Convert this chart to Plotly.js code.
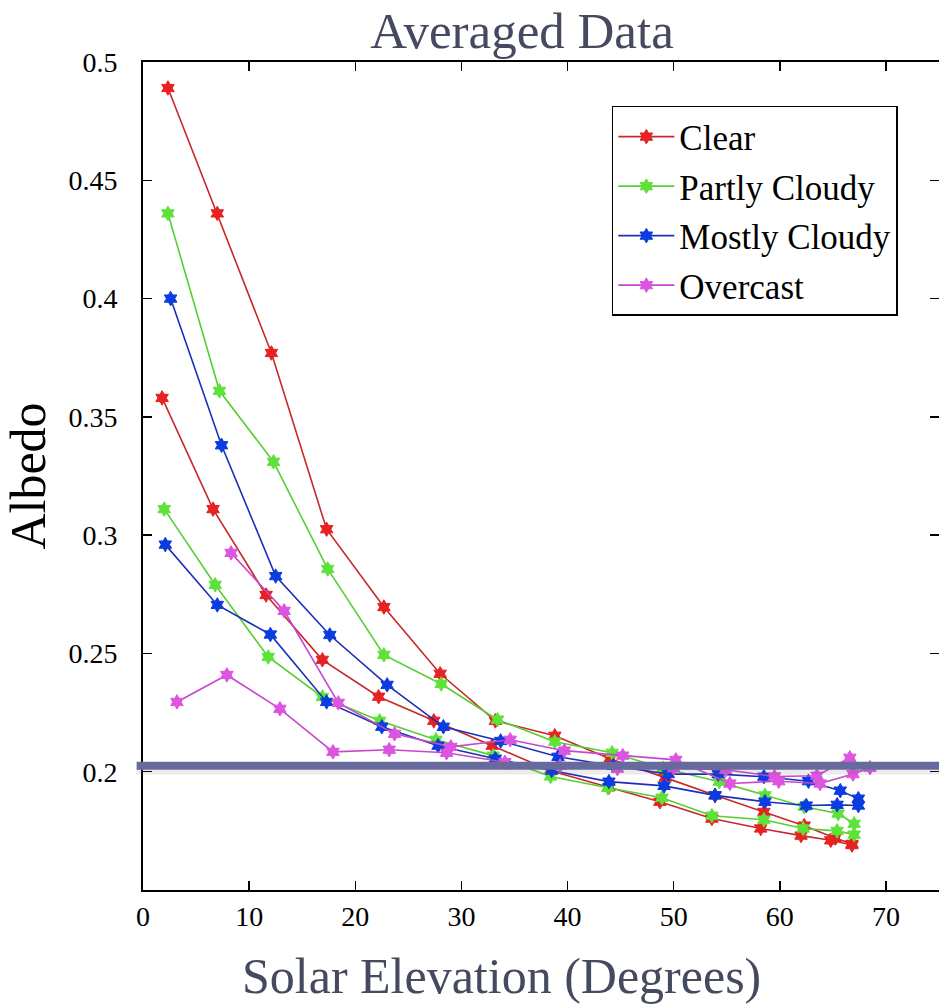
<!DOCTYPE html>
<html>
<head>
<meta charset="utf-8">
<script src="https://cdn.plot.ly/plotly-3.0.1.min.js"></script>
<style>html,body{margin:0;padding:0;background:#fff;}#chart{width:939px;height:1008px;}</style>
</head>
<body>
<div id="chart"></div>
<script>
// Categories
var categories = ["Clear", "Partly Cloudy", "Mostly Cloudy", "Overcast"];

// Clear (two data sets)
var clearA_x = [2.35, 7.0, 12.1, 17.3, 22.7, 28.0, 33.2, 38.8, 44.0, 49.2, 53.9, 58.5, 62.3, 65.2, 66.8];
var clearA_y = [0.489, 0.436, 0.377, 0.3025, 0.2696, 0.2414, 0.2215, 0.2152, 0.2055, 0.1975, 0.190, 0.183, 0.1772, 0.1720, 0.1695];
var clearB_x = [1.8, 6.6, 11.6, 16.9, 22.2, 27.4, 32.9, 38.4, 43.9, 48.7, 53.6, 58.2, 62.0, 64.8, 66.8];
var clearB_y = [0.358, 0.311, 0.2747, 0.2473, 0.2317, 0.2215, 0.211, 0.2004, 0.1935, 0.1873, 0.1802, 0.176, 0.173, 0.1710, 0.1690];

// Partly Cloudy
var partlyA_x = [2.35, 7.2, 12.3, 17.4, 22.7, 28.1, 33.4, 38.8, 44.2, 49.0, 54.3, 58.6, 62.3, 65.5, 67.0];
var partlyA_y = [0.436, 0.361, 0.331, 0.2857, 0.2494, 0.2371, 0.222, 0.2127, 0.208, 0.2015, 0.1958, 0.190, 0.1852, 0.1823, 0.178];
var partlyB_x = [2.0, 6.8, 11.8, 16.9, 22.3, 27.6, 33.0, 38.4, 43.8, 48.9, 53.6, 58.5, 62.2, 65.4, 67.0];
var partlyB_y = [0.311, 0.279, 0.2485, 0.2316, 0.2215, 0.2135, 0.2068, 0.198, 0.1932, 0.189, 0.1814, 0.1797, 0.176, 0.175, 0.1734];

// Mostly Cloudy
var mostlyA_x = [2.6, 7.4, 12.5, 17.6, 23.0, 28.3, 33.7, 39.1, 44.3, 49.5, 54.2, 58.5, 62.7, 65.7, 67.4];
var mostlyA_y = [0.400, 0.338, 0.2827, 0.2578, 0.2367, 0.219, 0.213, 0.2063, 0.2025, 0.199, 0.199, 0.1979, 0.196, 0.192, 0.1886];
var mostlyB_x = [2.1, 7.0, 12.0, 17.3, 22.5, 27.8, 33.2, 38.5, 43.9, 49.1, 53.9, 58.6, 62.5, 65.4, 67.4];
var mostlyB_y = [0.296, 0.2705, 0.258, 0.2295, 0.219, 0.211, 0.2055, 0.2005, 0.1958, 0.194, 0.190, 0.1873, 0.1857, 0.186, 0.1857];

// Overcast
var overcastA_x = [8.3, 13.3, 18.4, 23.7, 29.0, 34.6, 39.7, 45.2, 50.2, 55.3, 59.9, 63.8, 66.9, 68.5];
var overcastA_y = [0.2925, 0.268, 0.2291, 0.216, 0.2105, 0.2135, 0.2089, 0.2068, 0.205, 0.195, 0.196, 0.195, 0.199, 0.2017];
var overcastB_x = [3.2, 7.9, 12.9, 17.9, 23.2, 28.6, 34.1, 39.3, 44.7, 50.0, 54.9, 59.5, 63.5, 66.6];
var overcastB_y = [0.2295, 0.2409, 0.2266, 0.2084, 0.2093, 0.208, 0.204, 0.2025, 0.2013, 0.2015, 0.2008, 0.198, 0.1983, 0.2059];

// Reference level
var refLevel = 0.2025;

// Axis ticks and titles
var xTickVals = [0, 10, 20, 30, 40, 50, 60, 70];
var yTickVals = [0.2, 0.25, 0.3, 0.35, 0.4, 0.45, 0.5];
var yTickText = ["0.2", "0.25", "0.3", "0.35", "0.4", "0.45", "0.5"];
var xTitle = "Solar Elevation (Degrees)";

var lineColors = ["#c8282a", "#55d030", "#1a30b8", "#c848cc"];
var markerColors = ["#e62222", "#5ee23a", "#0a3ce0", "#dc55e0"];

var serif = "'Liberation Serif', serif";

function mk(x, y, idx, show) {
  return {
    x: x, y: y, type: "scatter", mode: "lines+markers",
    name: categories[idx], legendgroup: categories[idx], showlegend: show,
    line: {color: lineColors[idx], width: 1.6},
    marker: {symbol: "hexagram", size: 11, color: markerColors[idx], line: {color: markerColors[idx], width: 1}}
  };
}

var data = [
  mk(clearA_x, clearA_y, 0, true), mk(clearB_x, clearB_y, 0, false),
  mk(partlyA_x, partlyA_y, 1, true), mk(partlyB_x, partlyB_y, 1, false),
  mk(mostlyA_x, mostlyA_y, 2, true), mk(mostlyB_x, mostlyB_y, 2, false),
  mk(overcastA_x, overcastA_y, 3, true), mk(overcastB_x, overcastB_y, 3, false)
];

var layout = {
  width: 939, height: 1008,
  margin: {l: 143, r: 0, t: 62, b: 118},
  paper_bgcolor: "#ffffff", plot_bgcolor: "#ffffff",
  showlegend: true,
  title: {text: "Averaged Data", font: {family: serif, size: 51, color: "#464a60"}, x: 0.556, xanchor: "center", y: 0.97, yanchor: "middle"},
  xaxis: {
    range: [0, 75], tickvals: xTickVals, ticks: "inside", ticklen: 9, tickwidth: 1.5, tickcolor: "#000",
    showline: true, linecolor: "#000", linewidth: 2, mirror: "ticks", showgrid: false, zeroline: false,
    tickfont: {family: serif, size: 28, color: "#000"}
  },
  yaxis: {
    range: [0.15, 0.5], tickvals: yTickVals, ticktext: yTickText, ticks: "inside", ticklen: 9, tickwidth: 1.5, tickcolor: "#000",
    showline: true, linecolor: "#000", linewidth: 2, mirror: "ticks", showgrid: false, zeroline: false,
    tickfont: {family: serif, size: 28, color: "#000"}, ticklabelstandoff: 18,
    title: {text: "Albedo", font: {family: serif, size: 50, color: "#000"}, standoff: 14}
  },
  annotations: [
    {text: xTitle, xref: "paper", yref: "paper", x: 0.451, y: -0.104, xanchor: "center", yanchor: "middle",
     showarrow: false, font: {family: serif, size: 50, color: "#454a5e"}}
  ],
  legend: {
    x: 0.589, y: 0.947, xanchor: "left", yanchor: "top",
    bgcolor: "#ffffff", bordercolor: "#000", borderwidth: 1.5,
    font: {family: serif, size: 35, color: "#000"},
    tracegroupgap: 1, itemwidth: 56
  },
  shapes: [
    {type: "line", xref: "paper", yref: "y", x0: -0.008, x1: 1, y0: refLevel - 0.0022, y1: refLevel - 0.0022,
     line: {color: "rgba(90,90,90,0.12)", width: 7}, layer: "above"},
    {type: "line", xref: "paper", yref: "y", x0: -0.008, x1: 1, y0: refLevel, y1: refLevel,
     line: {color: "#666a9c", width: 8}, layer: "above"}
  ]
};

Plotly.newPlot("chart", data, layout, {staticPlot: true, displayModeBar: false});
</script>
</body>
</html>
